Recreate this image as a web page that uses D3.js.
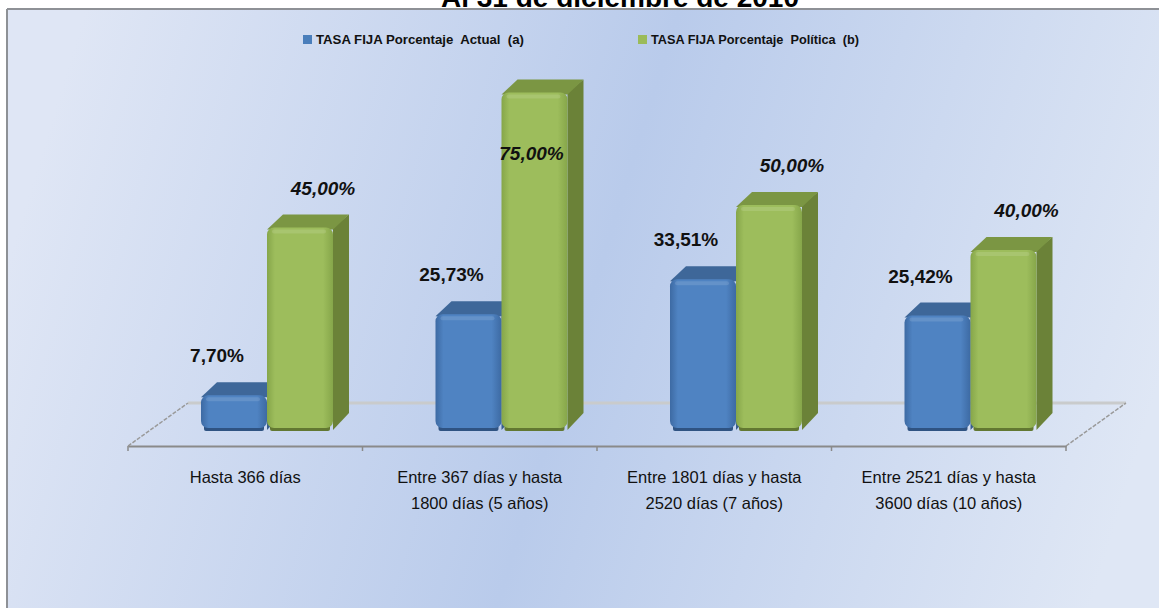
<!DOCTYPE html>
<html>
<head>
<meta charset="utf-8">
<script src="https://cdn.jsdelivr.net/npm/d3@7/dist/d3.min.js"></script>
<style>
  html, body { margin: 0; padding: 0; background: #ffffff; overflow: hidden; }
  svg { display: block; }
</style>
</head>
<body>
<svg id="chart" width="1159" height="608"></svg>
<script>
// ---- data ----
const title = "Al 31 de diciembre de 2010";
const categories = [
  ["Hasta 366 días"],
  ["Entre 367 días y hasta", "1800 días (5 años)"],
  ["Entre 1801 días y hasta", "2520 días (7 años)"],
  ["Entre  2521 días y hasta", "3600 días (10 años)"]
];
const seriesNames = ["TASA FIJA Porcentaje  Actual  (a)", "TASA FIJA Porcentaje  Política  (b)"];
const actual = [7.70, 25.73, 33.51, 25.42];
const politica = [45.00, 75.00, 50.00, 40.00];

// ---- layout ----
const W = 1159, H = 608;
const svg = d3.select("#chart");
const defs = svg.append("defs");

const bg = defs.append("linearGradient").attr("id", "bg")
  .attr("x1", "0").attr("y1", "0.42").attr("x2", "1").attr("y2", "0.58");
bg.append("stop").attr("offset", "0").attr("stop-color", "#dfe6f5");
bg.append("stop").attr("offset", "0.5").attr("stop-color", "#b9cbeb");
bg.append("stop").attr("offset", "1").attr("stop-color", "#dfe7f5");

function faceGrad(id, edge, mid) {
  const g = defs.append("linearGradient").attr("id", id)
    .attr("x1", "0").attr("y1", "0").attr("x2", "1").attr("y2", "0");
  g.append("stop").attr("offset", "0").attr("stop-color", edge);
  g.append("stop").attr("offset", "0.12").attr("stop-color", mid);
  g.append("stop").attr("offset", "0.85").attr("stop-color", mid);
  g.append("stop").attr("offset", "1").attr("stop-color", edge);
}
faceGrad("blueFront", "#3d6aa3", "#4f83c2");
faceGrad("greenFront", "#86a64a", "#9dbd5c");

const series = [
  { name: seriesNames[0], values: actual, front: "url(#blueFront)", top: "#3e6799", side: "#375d8c", bottom: "#2f5382", marker: "#4a7ebb", italic: false, dxLabel: -17 },
  { name: seriesNames[1], values: politica, front: "url(#greenFront)", top: "#7b9643", side: "#6b8238", bottom: "#627832", marker: "#9bbb59", italic: true, dxLabel: 23 }
];

// frame
svg.append("rect").attr("x", 7).attr("y", 9).attr("width", W).attr("height", H)
  .attr("fill", "url(#bg)");
svg.append("line").attr("x1", 7).attr("x2", W).attr("y1", 9).attr("y2", 9)
  .attr("stroke", "#8e9196").attr("stroke-width", 2);
svg.append("line").attr("x1", 7).attr("x2", 7).attr("y1", 9).attr("y2", H)
  .attr("stroke", "#8e9196").attr("stroke-width", 2);

// title (clipped at top as in the reference)
svg.append("text").attr("x", 620).attr("y", 7)
  .attr("text-anchor", "middle")
  .attr("font-family", "Liberation Sans, Arial, sans-serif")
  .attr("font-weight", "bold").attr("font-size", 28)
  .attr("fill", "#000").text(title);

// scales
const idx = d3.range(categories.length);
const x = d3.scaleBand().domain(idx).range([128, 1066]).paddingInner(0).paddingOuter(0);
const y = d3.scaleLinear().domain([0, 75]).range([430, 92.5]);
const floorFront = 446, floorDX = 60, floorDY = 43;
const depthX = 16, depthY = 13;
const barW = 66, barOffset = 73;

// floor back line and side edges
const gFloor = svg.append("g");
gFloor.append("line")
  .attr("x1", x.range()[0] + floorDX).attr("x2", x.range()[1] + floorDX)
  .attr("y1", floorFront - floorDY).attr("y2", floorFront - floorDY)
  .attr("stroke", "#c9cbcc").attr("stroke-width", 3);
[x.range()[0], x.range()[1]].forEach(px => {
  gFloor.append("line")
    .attr("x1", px).attr("y1", floorFront)
    .attr("x2", px + floorDX).attr("y2", floorFront - floorDY)
    .attr("stroke", "#9a9a9a").attr("stroke-width", 1.5)
    .attr("stroke-dasharray", "4,1.5");
});

// front axis
const axisG = svg.append("g").attr("transform", `translate(0,${floorFront})`);
const axis = d3.axisBottom(x).tickSize(0).tickFormat("");
axisG.call(axis);
axisG.select(".domain").attr("stroke", "#8a8a8a").attr("stroke-width", 2);
const tickPos = idx.map(i => x(i)).concat([x.range()[1]]);
axisG.selectAll("line.tk").data(tickPos).enter().append("line")
  .attr("class", "tk")
  .attr("x1", d => d).attr("x2", d => d).attr("y1", 0).attr("y2", 5)
  .attr("stroke", "#8a8a8a").attr("stroke-width", 1.5);

// category labels
const catG = svg.append("g");
categories.forEach((lines, i) => {
  const t = catG.append("text")
    .attr("x", x(i) + x.bandwidth() / 2)
    .attr("y", 483)
    .attr("text-anchor", "middle")
    .attr("font-family", "Liberation Sans, Arial, sans-serif")
    .attr("font-size", 16.5).attr("fill", "#111");
  lines.forEach((ln, k) => {
    t.append("tspan").attr("x", x(i) + x.bandwidth() / 2)
      .attr("dy", k === 0 ? 0 : 26).text(ln);
  });
});

// bars
const barsG = svg.append("g");
idx.forEach(i => {
  series.forEach((s, si) => {
    const v = s.values[i];
    const x0 = x(i) + barOffset + si * barW;
    const yt = y(v), yb = y(0);
    const g = barsG.append("g");
    g.append("path")
      .attr("d", `M${x0 + barW},${yt} L${x0 + barW + depthX},${yt - depthY} L${x0 + barW + depthX},${yb - depthY - 4} L${x0 + barW},${yb} Z`)
      .attr("fill", s.side);
    g.append("path")
      .attr("d", `M${x0},${yt + 2} L${x0 + depthX},${yt - depthY} L${x0 + barW + depthX},${yt - depthY} L${x0 + barW},${yt + 2} Z`)
      .attr("fill", s.top);
    g.append("rect")
      .attr("x", x0 + 3).attr("y", yb - 6).attr("width", barW - 6).attr("height", 7)
      .attr("rx", 2).attr("fill", s.bottom);
    g.append("rect")
      .attr("x", x0).attr("y", yt).attr("width", barW).attr("height", yb - yt - 2)
      .attr("rx", 7).attr("ry", 7)
      .attr("fill", s.front);
    g.append("rect")
      .attr("x", x0 + 5).attr("y", yt + 2).attr("width", barW - 12).attr("height", 4)
      .attr("rx", 2).attr("fill", "#ffffff").attr("opacity", 0.12);
  });
});

// value labels
const fmt = v => d3.format(".2f")(v).replace(".", ",") + "%";
const labG = svg.append("g");
const labelMinY = 160;
idx.forEach(i => {
  series.forEach((s, si) => {
    const v = s.values[i];
    const rawY = y(v) - depthY - 20;
    const clamped = rawY < labelMinY;
    const cx = x(i) + barOffset + si * barW + barW / 2 + (clamped ? -3 : s.dxLabel);
    labG.append("text")
      .attr("x", cx).attr("y", clamped ? labelMinY : rawY)
      .attr("text-anchor", "middle")
      .attr("font-family", "Liberation Sans, Arial, sans-serif")
      .attr("font-weight", "bold")
      .attr("font-style", s.italic ? "italic" : "normal")
      .attr("font-size", 19).attr("fill", "#111")
      .text(fmt(v));
  });
});

// legend
const legX = [303, 638];
const legG = svg.append("g");
series.forEach((s, si) => {
  legG.append("rect").attr("x", legX[si]).attr("y", 35).attr("width", 9).attr("height", 9)
    .attr("fill", s.marker);
  legG.append("text").attr("x", legX[si] + 13).attr("y", 44)
    .attr("font-family", "Liberation Sans, Arial, sans-serif")
    .attr("font-weight", "bold").attr("font-size", 12).attr("fill", "#111")
    .attr("textLength", 208).attr("lengthAdjust", "spacingAndGlyphs")
    .style("white-space", "pre")
    .text(s.name);
});
</script>
</body>
</html>
